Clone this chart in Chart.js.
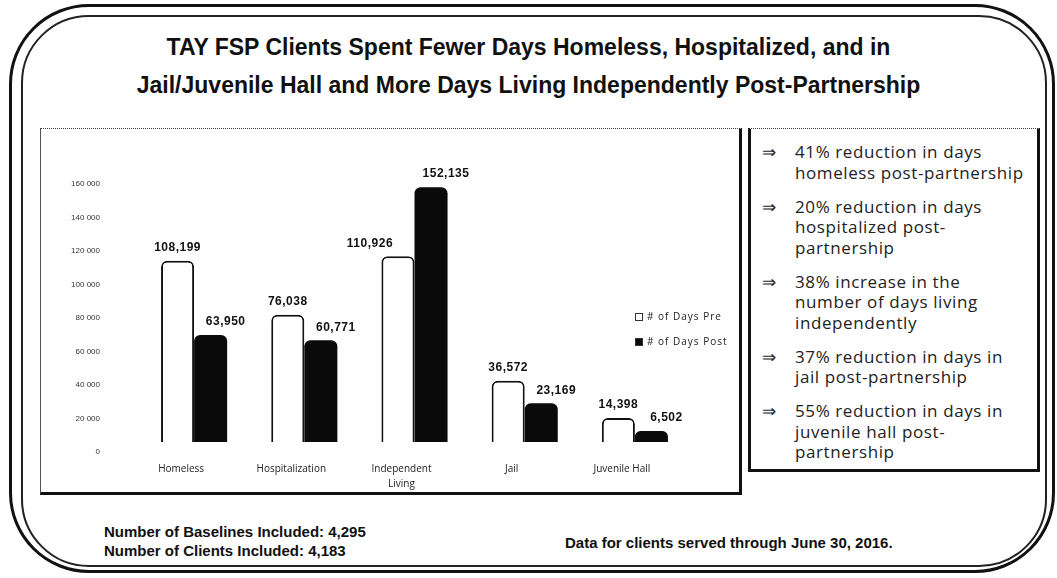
<!DOCTYPE html>
<html>
<head>
<meta charset="utf-8">
<title>TAY FSP Days Pre / Post</title>
<script src="https://cdn.jsdelivr.net/npm/chart.js@4.4.1/dist/chart.umd.min.js"></script>
<style>
  body { margin: 0; width: 1057px; height: 578px; background: #fff; position: relative; overflow: hidden;
         font-family: "Liberation Sans", Arial, sans-serif; color: #111; }
  .frame { position: absolute; box-sizing: border-box; }
  #outer { left: 9px; top: 4px; width: 1046px; height: 569px; border: 3px solid #111; border-radius: 80px; }
  #inner { left: 21px; top: 15px; width: 1026px; height: 552px; border: 2px solid #222; border-radius: 68px; }
  #title { position: absolute; left: 0; top: 28px; width: 1057px; text-align: center;
           font-weight: bold; font-size: 23px; line-height: 38px; }
  #chartBox { position: absolute; box-sizing: border-box; left: 40px; top: 128px; width: 702px; height: 367px;
              border-top: 1px dotted #444; border-left: 1px solid #555; border-right: 3px solid #111; border-bottom: 3px solid #111; }
  #chartWrap { position: absolute; left: 42px; top: 130px; width: 696px; height: 361px; }
  #notes { position: absolute; box-sizing: border-box; left: 748px; top: 128px; width: 292px; height: 344px;
           border-top: 1px dotted #444; border-left: 3px solid #111; border-right: 3px solid #111; border-bottom: 3px solid #111;
           padding-top: 13px; font-family: "Open Sans", sans-serif; font-size: 17px; line-height: 20.5px;
           letter-spacing: 0.6px; color: #222; white-space: nowrap; }
  #notes div { position: relative; padding-left: 44px; margin-bottom: 13.5px; }
  #notes div span { position: absolute; left: 11px; top: 0; letter-spacing: 0; }
  .foot { position: absolute; font-weight: bold; font-size: 15px; line-height: 18px; white-space: nowrap; }
</style>
</head>
<body>
<div id="outer" class="frame"></div>
<div id="inner" class="frame"></div>
<div id="title">TAY FSP Clients Spent Fewer Days Homeless, Hospitalized, and in<br>Jail/Juvenile Hall and More Days Living Independently Post-Partnership</div>

<div id="chartBox"></div>
<div id="chartWrap"><canvas id="days"></canvas></div>

<div id="notes">
  <div><span>&rArr;</span>41% reduction in days<br>homeless post-partnership</div>
  <div><span>&rArr;</span>20% reduction in days<br>hospitalized post-<br>partnership</div>
  <div><span>&rArr;</span>38% increase in the<br>number of days living<br>independently</div>
  <div><span>&rArr;</span>37% reduction in days in<br>jail post-partnership</div>
  <div><span>&rArr;</span>55% reduction in days in<br>juvenile hall post-<br>partnership</div>
</div>

<div class="foot" style="left:104px; top:523px;">Number of Baselines Included: 4,295</div>
<div class="foot" style="left:104px; top:542px;">Number of Clients Included: 4,183</div>
<div class="foot" style="left:565px; top:534px;">Data for clients served through June 30, 2016.</div>

<script>
// categories and days per category
var categories = ["Homeless", "Hospitalization", ["Independent", "Living"], "Jail", "Juvenile Hall"];
var seriesNames = ["# of Days Pre", "# of Days Post"];
var daysPre = [108199, 76038, 110926, 36572, 14398];
var daysPost = [63950, 60771, 152135, 23169, 6502];
var yTicks = [0, 20000, 40000, 60000, 80000, 100000, 120000, 140000, 160000];

function spaced(v) {
    return String(v).replace(/\B(?=(\d{3})+(?!\d))/g, " ");
}

// value labels above each bar
var barLabels = {
    id: "barLabels",
    afterDatasetsDraw: function(chart) {
        var ctx = chart.ctx;
        var pre = chart.getDatasetMeta(0).data;
        var post = chart.getDatasetMeta(1).data;
        ctx.save();
        ctx.font = "bold 12px 'Liberation Sans', Arial, sans-serif";
        ctx.letterSpacing = "0.5px";
        ctx.fillStyle = "#111";
        ctx.textAlign = "center";
        ctx.textBaseline = "middle";
        pre.forEach(function(bar, i) {
            var x = bar.x;
            // pre label would run into a taller post bar: move it aside
            if (post[i].y < bar.y - 20) x -= 28;
            ctx.fillText(daysPre[i].toLocaleString("en-US"), x, bar.y - 13);
        });
        post.forEach(function(bar, i) {
            ctx.fillText(daysPost[i].toLocaleString("en-US"), bar.x + 15, bar.y - 13);
        });
        ctx.restore();
    }
};

// legend sitting inside the plot, upper right
var sideLegend = {
    id: "sideLegend",
    afterDraw: function(chart) {
        var ctx = chart.ctx;
        var x = chart.chartArea.right - 55;
        var y = chart.chartArea.top + 143;
        ctx.save();
        ctx.font = "10px 'Open Sans', sans-serif";
        ctx.letterSpacing = "1px";
        ctx.textBaseline = "middle";
        chart.data.datasets.forEach(function(ds, i) {
            var yy = y + i * 25;
            ctx.fillStyle = ds.backgroundColor;
            ctx.strokeStyle = "#333";
            ctx.lineWidth = 1;
            ctx.fillRect(x, yy - 4, 8, 8);
            ctx.strokeRect(x + 0.5, yy - 3.5, 7, 7);
            ctx.fillStyle = "#222";
            ctx.fillText(ds.label, x + 12, yy);
        });
        ctx.restore();
    }
};

new Chart("days", {
    type: "bar",
    data: {
        labels: categories,
        datasets: [{
            label: seriesNames[0],
            data: daysPre,
            backgroundColor: "#ffffff",
            borderColor: "#111",
            borderWidth: 2,
            borderSkipped: "bottom",
            borderRadius: { topLeft: 6, topRight: 6 }
        }, {
            label: seriesNames[1],
            data: daysPost,
            backgroundColor: "#0a0a0a",
            borderColor: "#0a0a0a",
            borderWidth: 0,
            borderRadius: { topLeft: 6, topRight: 6 }
        }]
    },
    options: {
        responsive: true,
        maintainAspectRatio: false,
        animation: false,
        layout: { padding: { top: 44, right: 48 } },
        categoryPercentage: 0.6,
        barPercentage: 1.0,
        plugins: {
            legend: { display: false },
            tooltip: { enabled: false }
        },
        scales: {
            x: {
                grid: { display: false, drawTicks: false },
                border: { display: false },
                afterFit: function(s) { s.height = 49; },
                ticks: {
                    padding: 20,
                    labelOffset: -13,
                    color: "#222",
                    font: { family: "'Open Sans', sans-serif", size: 10, lineHeight: 1.5 },
                    maxRotation: 0
                }
            },
            y: {
                min: 0,
                max: 160000,
                grid: { display: false, drawTicks: false },
                border: { display: false },
                afterFit: function(s) { s.width = 97; },
                afterBuildTicks: function(s) {
                    s.ticks = yTicks.map(function(v) { return { value: v }; });
                },
                ticks: {
                    padding: 39,
                    labelOffset: 10,
                    color: "#333",
                    font: { family: "'Liberation Sans', Arial, sans-serif", size: 8 },
                    callback: function(v) { return spaced(v); }
                }
            }
        }
    },
    plugins: [barLabels, sideLegend]
});
</script>
</body>
</html>
